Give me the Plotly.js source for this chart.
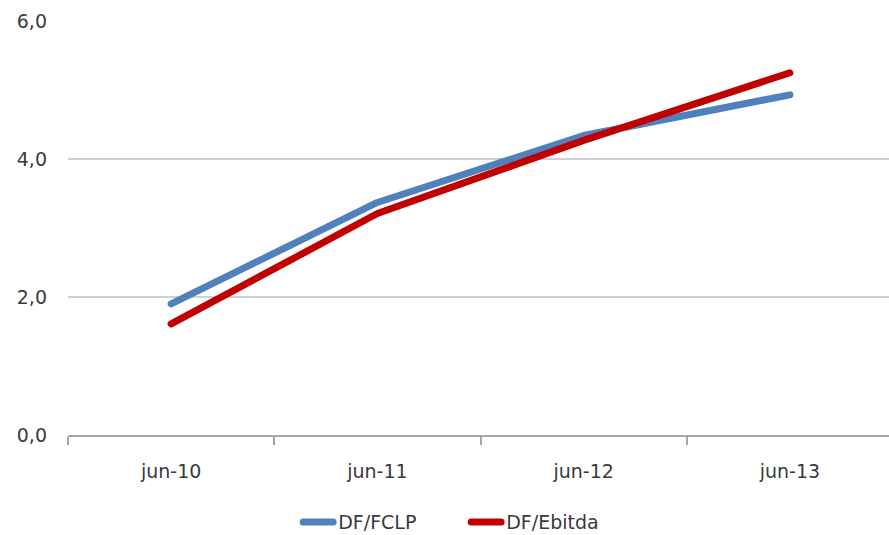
<!DOCTYPE html>
<html>
<head>
<meta charset="utf-8">
<script src="https://cdn.plot.ly/plotly-3.0.1.min.js"></script>
<style>
html,body{margin:0;padding:0;background:#fff;overflow:hidden;}
#chart{width:893px;height:535px;}
#chart path.js-line{stroke-linecap:round;stroke-linejoin:round;}
#chart .legendlines path{stroke-linecap:round;}
</style>
</head>
<body>
<div id="chart"></div>
<script>
const categories = ["jun-10", "jun-11", "jun-12", "jun-13"];
const fclpValues = [1.90, 3.37, 4.34, 4.93];
const ebitdaValues = [1.61, 3.21, 4.27, 5.25];
const seriesNames = ["DF/FCLP", "DF/Ebitda"];
const yTicks = [0, 2, 4, 6];

const font = {family: "DejaVu Sans, Arial, sans-serif", size: 19, color: "#3a3a3a"};

const traces = [
  {x: categories, y: fclpValues, name: seriesNames[0], type: "scatter", mode: "lines",
   line: {color: "#4F81BD", width: 7}},
  {x: categories, y: ebitdaValues, name: seriesNames[1], type: "scatter", mode: "lines",
   line: {color: "#C00000", width: 7}}
];

const layout = {
  width: 893, height: 535,
  margin: {l: 68, r: 0, t: 21, b: 100, autoexpand: false},
  paper_bgcolor: "#ffffff", plot_bgcolor: "#ffffff",
  font: font,
  separators: ",.",
  showlegend: true,
  legend: {orientation: "h", x: 0.279, xanchor: "left", y: 0.024, yref: "container", yanchor: "middle",
           font: font, tracegroupgap: 0, entrywidth: 123, entrywidthmode: "pixels"},
  xaxis: {type: "category", range: [-0.5, 3.5], showgrid: false, automargin: false,
          showline: true, linecolor: "#a6a6a6", linewidth: 2,
          ticks: "outside", tickson: "boundaries", ticklen: 8, tickcolor: "#a6a6a6", tickwidth: 2,
          ticklabelstandoff: 18, tickfont: font, zeroline: false, fixedrange: true},
  yaxis: {range: [0, 6], tickvals: yTicks, tickformat: ".1f", automargin: false,
          showgrid: true, gridcolor: "#d0d0d0", gridwidth: 2,
          showline: false, zeroline: false, ticks: "",
          ticklabelstandoff: 20, tickfont: font, fixedrange: true}
};

Plotly.newPlot("chart", traces, layout, {displayModeBar: false, staticPlot: true});
</script>
</body>
</html>
